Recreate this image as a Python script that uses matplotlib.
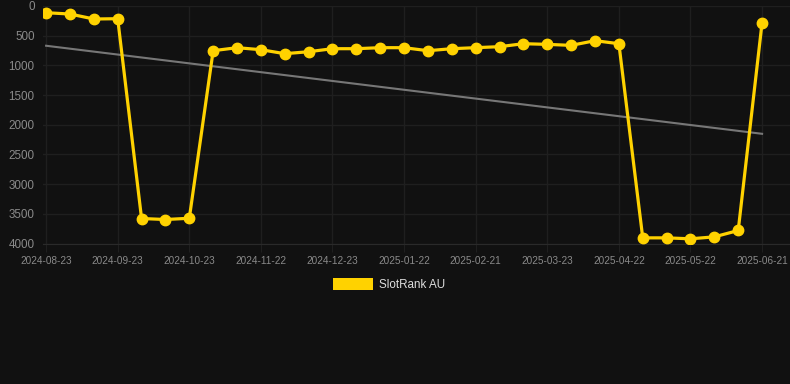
import matplotlib
matplotlib.use("Agg")
import matplotlib.pyplot as plt
import numpy as np
from matplotlib.patches import Rectangle

tick_labels = ["2024-08-23", "2024-09-23", "2024-10-23", "2024-11-22", "2024-12-23",
               "2025-01-22", "2025-02-21", "2025-03-23", "2025-04-22", "2025-05-22",
               "2025-06-21"]
ranks = [113, 135, 219, 214, 3579, 3596, 3575, 753, 702, 736, 803, 770, 719, 719, 702,
         702, 753, 719, 702, 685, 635, 646, 663, 584, 635, 3905, 3905, 3921, 3888, 3781, 281]
series_name = "SlotRank AU"
y_ticks = [0, 500, 1000, 1500, 2000, 2500, 3000, 3500, 4000]

plt.rcParams['font.family'] = ['Liberation Sans', 'DejaVu Sans']
W, H = 790, 384
fig = plt.figure(figsize=(W / 100, H / 100), dpi=100, facecolor="#111111")
ax = fig.add_axes([43 / W, (H - 243.5) / H, (790 - 43) / W, (243.5 - 6) / H])
ax.set_facecolor("#111111")

x = np.arange(len(ranks))
coef = np.polyfit(x, ranks, 1)
trend = np.polyval(coef, x[[0, -1]])
ax.plot(x[[0, -1]], trend, color="#777777", lw=1.5, zorder=2)
ax.plot(x, ranks, color="#FFD200", lw=2.3, marker="o", markersize=7.5,
        markerfacecolor="#FFD200", markeredgecolor="#FFD200", zorder=3)

ax.set_ylim(4000, 0)
ax.set_xlim(-0.13, 31.17)
ax.set_yticks(y_ticks)
ax.set_yticklabels([str(v) for v in y_ticks])
ax.set_xticks(x[::3])
ax.set_xticklabels(tick_labels)
ax.grid(True, color="#1f1f1f", lw=1.0)
ax.set_axisbelow(True)
for s in ax.spines.values():
    s.set_visible(False)
ax.spines["bottom"].set_visible(True)
ax.spines["bottom"].set_color("#2a2a2a")
ax.tick_params(axis="y", length=0, pad=6, labelsize=8.4, labelcolor="#8a8a8a")
ax.tick_params(axis="x", length=6, color="#1f1f1f", pad=3, labelsize=7.2, labelcolor="#8a8a8a")

# legend
fig.patches.append(Rectangle((333 / W, 1 - 290 / H), 40 / W, 12 / H,
                             transform=fig.transFigure, facecolor="#FFD200", edgecolor="none"))
fig.text(379 / W, 1 - 284.5 / H, series_name, color="#dddddd", fontsize=8.4, va="center", ha="left")

fig.savefig("out.png", dpi=100, facecolor="#111111")
